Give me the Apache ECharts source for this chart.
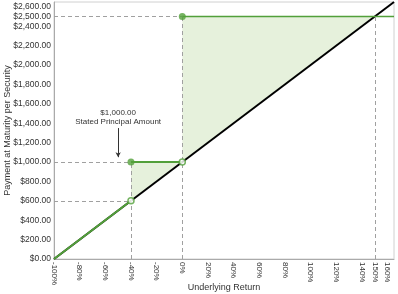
<!DOCTYPE html>
<html><head><meta charset="utf-8">
<script src="https://cdn.jsdelivr.net/npm/echarts@6/dist/echarts.min.js"></script>
<style>html,body{margin:0;padding:0;background:#fff}#c{width:398px;height:294px}</style>
</head><body><div id="c"></div>
<script>
// Data
const xTicks = [-100,-80,-60,-40,-20,0,20,40,60,80,100,120,140,150,160];
const yTicks = [0,200,400,600,800,1000,1200,1400,1600,1800,2000,2200,2400,2500,2600];
const xRange = [-100, 165];
const yRange = [0, 2650];
// underlying (black) line: payment = 1000*(1+r)
const blackLine = [[-100,0],[165,2650]];
// security payoff (green) segments
const greenDown = [[-100,0],[-40,600]];
const greenMid = [[-40,1000],[0,1000]];
const greenUp = [[0,2500],[165,2500]];
const filledPts = [[-40,1000],[0,2500]];
const hollowPts = [[-40,600],[0,1000]];
// shaded regions (payoff above underlying)
const shade1 = [[-40,600],[-40,1000],[0,1000]];
const shade2 = [[0,1000],[0,2500],[150,2500]];
// reference dashed lines
const refLines = [
  [[-100,600],[-40,600]],
  [[-100,1000],[-40,1000]],
  [[-100,2500],[0,2500]],
  [[-40,0],[-40,1000]],
  [[0,0],[0,2500]],
  [[150,0],[150,2500]]
];
const annoArrow = [[-50,1350],[-50,1050]];
const annoText = [-50,1460];
const annoLabel = '$1,000.00\nStated Principal Amount';

const green = '#52a03a';
const shadeColor = '#e6f1dc';
const fnt = 'Liberation Sans, Arial, sans-serif';

const chart = echarts.init(document.getElementById('c'), null, {renderer:'canvas'});
function fmtY(v){return '$' + v.toLocaleString('en-US',{minimumFractionDigits:2,maximumFractionDigits:2});}
chart.setOption({
  animation:false,
  grid:{left:54,right:4,top:2,bottom:35,containLabel:false,outerBoundsMode:'none',show:true,borderColor:'#d0d0d0',borderWidth:1},
  xAxis:{type:'value',min:xRange[0],max:xRange[1],
    name:'Underlying Return',nameLocation:'middle',nameGap:24,nameMoveOverlap:false,
    nameTextStyle:{fontFamily:fnt,fontSize:9,color:'#333'},
    axisLine:{show:true,onZero:false,lineStyle:{color:'#aaa'}},axisTick:{show:false},splitLine:{show:false},
    axisLabel:{customValues:xTicks,rotate:-90,hideOverlap:false,fontFamily:fnt,fontSize:8,color:'#333',margin:3,
      formatter:v=>v+'%'}},
  yAxis:{type:'value',min:yRange[0],max:yRange[1],
    name:'Payment at Maturity per Security',nameLocation:'middle',nameGap:42,nameMoveOverlap:false,
    nameTextStyle:{fontFamily:fnt,fontSize:9,color:'#333'},
    axisLine:{show:true,onZero:false,lineStyle:{color:'#aaa'}},axisTick:{show:false},splitLine:{show:false},
    axisLabel:{customValues:yTicks,hideOverlap:false,fontFamily:fnt,fontSize:8.5,color:'#333',margin:3,formatter:fmtY}},
  series:[
    {type:'custom',z:1,data:[0,1],
      renderItem:function(params,api){
        const poly=[shade1,shade2][params.dataIndex].map(p=>api.coord(p));
        return {type:'polygon',shape:{points:poly},style:{fill:shadeColor}};
      }},
    {type:'line',z:2,data:[],symbol:'none',silent:true,
      markLine:{silent:true,symbol:'none',label:{show:false},
        lineStyle:{color:'#a0a0a0',type:[4,3],width:1},
        data:refLines.map(s=>[{coord:s[0]},{coord:s[1]}])}},
    {type:'line',z:3,data:blackLine,symbol:'none',lineStyle:{color:'#000',width:2}},
    {type:'line',z:4,data:greenDown,symbol:'none',lineStyle:{color:green,width:2}},
    {type:'line',z:4,data:greenMid,symbol:'none',lineStyle:{color:green,width:2}},
    {type:'line',z:4,data:greenUp,symbol:'none',lineStyle:{color:green,width:1.5}},
    {type:'scatter',z:5,data:filledPts,symbol:'circle',symbolSize:7,itemStyle:{color:green}},
    {type:'scatter',z:5,data:hollowPts,symbol:'circle',symbolSize:6,itemStyle:{color:'#fff',borderColor:green,borderWidth:1.5}},
    {type:'line',z:6,data:[],symbol:'none',
      markLine:{silent:true,symbol:['none','arrow'],symbolSize:[4,5],label:{show:false},
        lineStyle:{color:'#333',type:'solid',width:1},
        data:[[{coord:annoArrow[0]},{coord:annoArrow[1]}]]},
      markPoint:{silent:true,symbol:'circle',symbolSize:0,
        data:[{coord:annoText,label:{show:true,formatter:annoLabel,fontFamily:fnt,fontSize:8,color:'#333',lineHeight:9,align:'center'}}]}}
  ]
});
</script></body></html>
